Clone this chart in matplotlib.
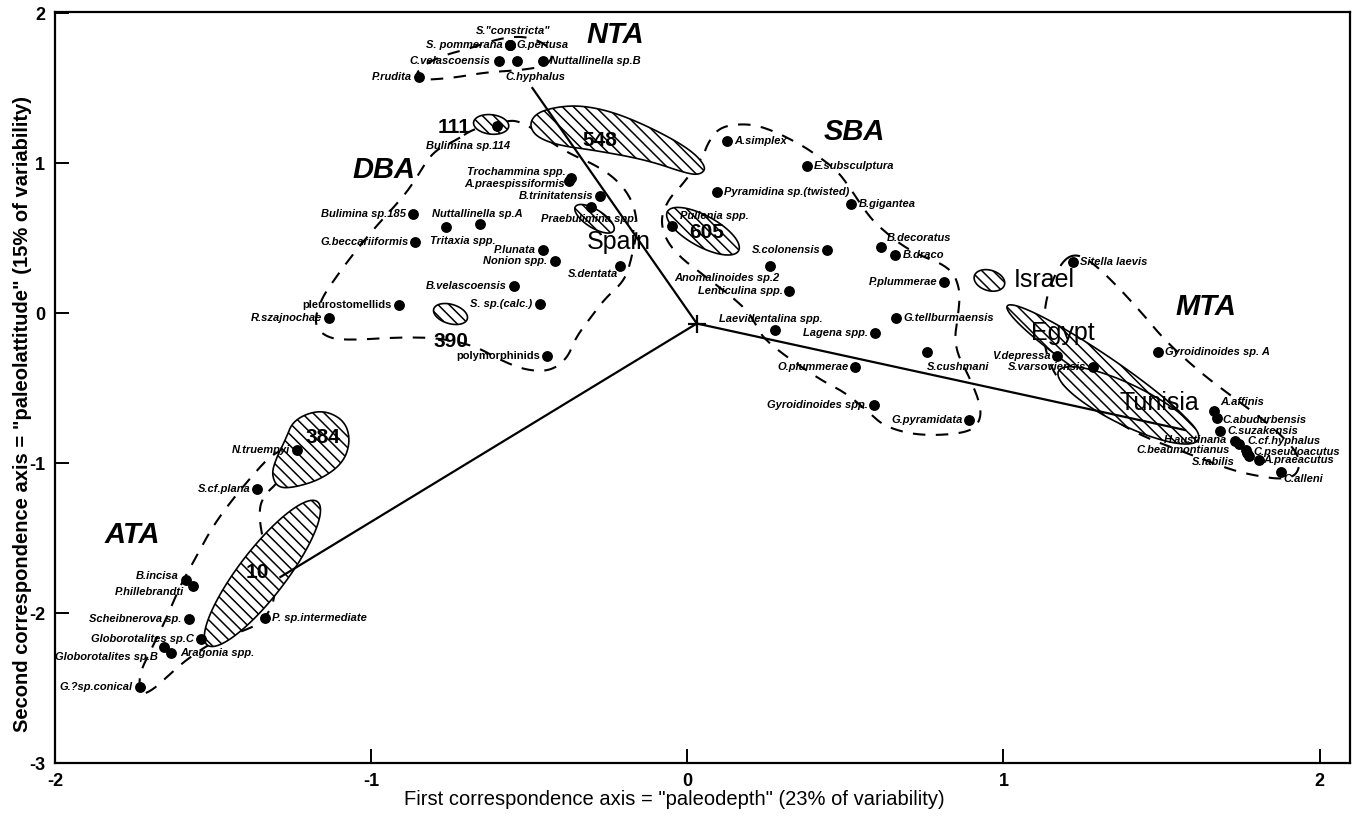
"""
Correspondence analysis of Paleocene benthic foraminifera.

species scores on first two axes, with site ellipses and assemblage outlines
"""

import matplotlib

matplotlib.use("Agg")
import matplotlib.pyplot as plt
import numpy as np
from matplotlib.patches import Polygon

plt.rcParams["font.family"] = ["Liberation Sans", "DejaVu Sans"]
plt.rcParams["hatch.linewidth"] = 1.1
plt.rcParams["axes.unicode_minus"] = False

# species scores: name, first axis, second axis
species = [
    'S."constricta"', "S. pommerana", "G.pertusa", "C.velascoensis", "C.hyphalus",
    "Nuttallinella sp.B", "P.rudita", "Bulimina sp.114", "Trochammina spp.",
    "A.praespissiformis", "B.trinitatensis", "Praebulimina spp.", "Bulimina sp.185",
    "Nuttallinella sp.A", "Tritaxia spp.", "G.beccariiformis", "P.lunata",
    "Nonion spp.", "S.dentata", "B.velascoensis", "S. sp.(calc.)", "pleurostomellids",
    "R.szajnochae", "polymorphinids", "A.simplex", "E.subsculptura",
    "Pyramidina sp.(twisted)", "B.gigantea", "Pullenia spp.", "S.colonensis",
    "B.decoratus", "B.draco", "Anomalinoides sp.2", "Lenticulina spp.", "P.plummerae",
    "G.tellburmaensis", "Laevidentalina spp.", "Lagena spp.", "S.cushmani",
    "O.plummerae", "Gyroidinoides spp.", "G.pyramidata", "Sitella laevis",
    "V.depressa", "S.varsoviensis", "Gyroidinoides sp. A", "A.affinis",
    "C.abudurbensis", "C.suzakensis", "H.austinana", "C.cf.hyphalus",
    "C.beaumontianus", "C.pseudoacutus", "S.fabilis", "A.praeacutus", "C.alleni",
    "N.truempyi", "S.cf.plana", "B.incisa", "P.hillebrandti", "Scheibnerova sp.",
    "P. sp.intermediate", "Globorotalites sp.C", "Globorotalites sp.B",
    "Aragonia spp.", "G.?sp.conical",
]
axis1 = [
    -0.562, -0.562, -0.562, -0.597, -0.538,
    -0.458, -0.850, -0.601, -0.367,
    -0.373, -0.275, -0.306, -0.869,
    -0.657, -0.762, -0.860, -0.458,
    -0.420, -0.214, -0.549, -0.467, -0.913,
    -1.134, -0.443, 0.126, 0.379,
    0.095, 0.519, -0.050, 0.443,
    0.613, 0.658, 0.263, 0.323, 0.813,
    0.661, 0.276, 0.595, 0.759,
    0.531, 0.592, 0.892, 1.221,
    1.170, 1.284, 1.490, 1.667,
    1.676, 1.685, 1.733, 1.746,
    1.767, 1.777, 1.770, 1.809, 1.878,
    -1.233, -1.360, -1.587, -1.565, -1.577,
    -1.337, -1.539, -1.656,
    -1.634, -1.732,
]
axis2 = [
    1.786, 1.786, 1.786, 1.679, 1.679,
    1.679, 1.572, 1.244, 0.900,
    0.880, 0.783, 0.709, 0.662,
    0.595, 0.575, 0.475, 0.421,
    0.348, 0.314, 0.181, 0.060, 0.054,
    -0.033, -0.288, 1.150, 0.977,
    0.810, 0.729, 0.582, 0.421,
    0.441, 0.388, 0.315, 0.147, 0.207,
    -0.033, -0.114, -0.134, -0.261,
    -0.361, -0.615, -0.716, 0.341,
    -0.288, -0.361, -0.261, -0.655,
    -0.702, -0.789, -0.856, -0.876,
    -0.916, -0.950, -0.930, -0.977, -1.057,
    -0.916, -1.171, -1.779, -1.819, -2.040,
    -2.033, -2.174, -2.227,
    -2.268, -2.495,
]

# assemblage outlines (dashed)
nta_x = [-0.860, -0.749, -0.638, -0.528, -0.449, -0.423, -0.446, -0.512, -0.591, -0.686, -0.781, -0.850]
nta_y = [1.552, 1.565, 1.605, 1.619, 1.646, 1.712, 1.793, 1.846, 1.833, 1.766, 1.712, 1.632]

dba_x = [-0.727, -0.680, -0.591, -0.522, -0.402, -0.259, -0.180, -0.155, -0.174, -0.196,
         -0.259, -0.307, -0.354, -0.379, -0.433, -0.512, -0.591, -0.670, -0.781, -0.907,
         -1.065, -1.138, -1.182, -1.160, -1.113, -1.059, -0.986, -0.901, -0.860, -0.806]
dba_y = [1.157, 1.224, 1.278, 1.284, 1.090, 0.957, 0.789, 0.589, 0.388, 0.221,
         0.100, -0.033, -0.167, -0.301, -0.388, -0.381, -0.314, -0.221, -0.167, -0.161,
         -0.181, -0.167, -0.080, 0.087, 0.234, 0.388, 0.575, 0.769, 0.889, 1.077]

sba_x = [0.047, 0.067, 0.105, 0.190, 0.263, 0.358, 0.411, 0.474, 0.516, 0.557, 0.601,
         0.705, 0.832, 0.863, 0.858, 0.842, 0.895, 0.927, 0.927, 0.889, 0.737, 0.626,
         0.573, 0.500, 0.415, 0.247, 0.215, 0.182, 0.041, -0.022, -0.069, -0.085,
         -0.059, -0.022]
sba_y = [1.030, 1.144, 1.244, 1.264, 1.224, 1.124, 1.050, 0.950, 0.830, 0.696, 0.582,
         0.408, 0.308, 0.160, 0.007, -0.220, -0.440, -0.610, -0.720, -0.800, -0.820, -0.760,
         -0.660, -0.530, -0.440, -0.190, -0.070, 0.040, 0.270, 0.370, 0.490, 0.630,
         0.760, 0.840]

mta_x = [1.186, 1.227, 1.274, 1.338, 1.433, 1.512, 1.622, 1.701, 1.843, 1.938, 1.932,
         1.881, 1.796, 1.717, 1.591, 1.464, 1.369, 1.259, 1.180, 1.132, 1.126, 1.142]
mta_y = [0.348, 0.395, 0.348, 0.227, 0.013, -0.187, -0.395, -0.522, -0.743, -0.943, -1.077,
         -1.110, -1.084, -1.044, -0.943, -0.843, -0.743, -0.575, -0.475, -0.274, -0.040, 0.160]

ata_x = [-1.729, -1.692, -1.650, -1.587, -1.492, -1.397, -1.344, -1.302, -1.312, -1.344,
         -1.356, -1.337, -1.292, -1.255, -1.281, -1.324, -1.381, -1.439, -1.502, -1.555,
         -1.603, -1.650, -1.697, -1.735]
ata_y = [-2.548, -2.514, -2.434, -2.314, -2.181, -2.114, -2.060, -1.913, -1.712, -1.512,
         -1.311, -1.211, -1.124, -0.977, -0.910, -0.963, -1.097, -1.244, -1.425, -1.632,
         -1.813, -2.047, -2.247, -2.414]

# hatched site areas drawn as free outlines
site548_x = [-0.500, -0.480, -0.420, -0.338, -0.233, -0.107, 0.010, 0.060, 0.044, 0.004,
             -0.127, -0.296, -0.401, -0.475]
site548_y = [1.251, 1.330, 1.372, 1.385, 1.340, 1.228, 1.090, 0.975, 0.925, 0.926,
             1.020, 1.086, 1.115, 1.170]
site384_x = [-1.245, -1.160, -1.087, -1.065, -1.087, -1.160, -1.245, -1.296, -1.315, -1.302, -1.271]
site384_y = [-0.709, -0.642, -0.709, -0.843, -0.997, -1.110, -1.164, -1.164, -1.077, -0.977, -0.843]

# hatched site ellipses: ends of long axis and width/length ratio
ellipse_names = ["111", "390", "Spain", "605", "Israel", "Egypt", "Tunisia", "10"]
ellipse_end1 = [(-0.676, 1.271), (-0.802, 0.027), (-0.354, 0.709), (-0.063, 0.676),
                (0.908, 0.248), (1.012, 0.047), (1.174, -0.388), (-1.518, -2.214)]
ellipse_end2 = [(-0.565, 1.244), (-0.696, -0.040), (-0.233, 0.548), (0.162, 0.415),
                (1.003, 0.187), (1.600, -0.789), (1.616, -0.843), (-1.170, -1.258)]
ellipse_ratio = [0.55, 0.55, 0.4, 0.38, 0.65, 0.13, 0.26, 0.26]

# vectors from the origin
origin = (0.03, -0.07)
vector_ends = [(-0.49, 1.50), (-1.287, -1.76), (1.574, -0.78)]

# label texts
group_names = ["NTA", "DBA", "SBA", "MTA", "ATA"]
group_x = [-0.228, -0.958, 0.528, 1.641, -1.755]
group_y = [1.853, 0.953, 1.207, 0.040, -1.480]

site_names = ["111", "548", "605", "Spain", "390", "384", "10", "Israel", "Egypt", "Tunisia"]
site_x = [-0.686, -0.278, 0.060, -0.218, -0.749, -1.151, -1.360, 1.031, 1.189, 1.492]
site_y = [1.240, 1.153, 0.540, 0.473, -0.193, -0.833, -1.727, 0.220, -0.133, -0.600]

# ---- label placement (pixel offsets) ----
L = (-7, 0, "right")
R = (7, 0, "left")
label_offsets = [
    (3, 14, "center"), L, R, (-8, 0, "right"), (-12, -16, "left"),
    R, L, (-29, -20, "center"), (-6, 6, "right"),
    (-5, -3, "right"), L, (-2, -12, "center"), L,
    (-2, 10, "center"), (-16, -14, "left"), L, L,
    L, (-2, -8, "right"), L, L, L,
    L, L, R, R,
    R, R, (8, 10, "left"), L,
    (6, 9, "left"), R, (-44, -12, "center"), L, L,
    R, (-4, 11, "center"), L, (0, -15, "left"),
    L, L, L, R,
    L, L, R, (6, 9, "left"),
    (5, -2, "left"), (7, 0, "left"), (-8, 1, "right"), (8, 3, "left"),
    (-16, 0, "right"), (4, 4, "left"), (-12, -9, "right"), (4, 0, "left"), (2, -7, "left"),
    L, L, (-7, 4, "right"), (-8, -6, "right"), L,
    R, L, (-6, -10, "right"),
    (10, 0, "left"), L,
]
upright = {"pleurostomellids", "polymorphinids"}


def chaikin(xs, ys, n=3):
    """Smooth a closed outline by corner cutting."""
    p = np.column_stack([xs, ys]).astype(float)
    for _ in range(n):
        nxt = np.roll(p, -1, axis=0)
        q = np.empty((2 * len(p), 2))
        q[0::2] = 0.75 * p + 0.25 * nxt
        q[1::2] = 0.25 * p + 0.75 * nxt
        p = q
    return np.vstack([p, p[:1]])


def ellipse_outline(ax, end1, end2, ratio, n=120):
    """Ellipse between two tips, built in display space."""
    a = ax.transData.transform([end1, end2])
    c = a.mean(axis=0)
    d = a[1] - a[0]
    length = np.hypot(*d)
    u = d / length
    v = np.array([-u[1], u[0]])
    t = np.linspace(0, 2 * np.pi, n)
    pts = c + np.outer(length / 2 * np.cos(t), u) + np.outer(ratio * length / 2 * np.sin(t), v)
    return ax.transData.inverted().transform(pts)


fig = plt.figure(figsize=(13.52, 8.27), dpi=100)
ax = fig.add_axes([55 / 1352, 64 / 827, 1295 / 1352, 751 / 827])
ax.set_xlim(-2.0, 2.096)
ax.set_ylim(-3.0, 2.007)

dash = (0, (6, 5))
for xs, ys in [(nta_x, nta_y), (dba_x, dba_y), (sba_x, sba_y), (mta_x, mta_y), (ata_x, ata_y)]:
    s = chaikin(xs, ys)
    ax.plot(s[:, 0], s[:, 1], color="black", lw=1.5, ls=dash, zorder=1)

hatch_kw = dict(facecolor="white", edgecolor="black", lw=1.2, hatch="\\\\\\", zorder=3)
for xs, ys in [(site548_x, site548_y), (site384_x, site384_y)]:
    s = chaikin(xs, ys)
    ax.add_patch(Polygon(s, closed=True, **hatch_kw))
for e1, e2, r in zip(ellipse_end1, ellipse_end2, ellipse_ratio):
    ax.add_patch(Polygon(ellipse_outline(ax, e1, e2, r), closed=True, **hatch_kw))

for ex, ey in vector_ends:
    ax.plot([origin[0], ex], [origin[1], ey], color="black", lw=1.6, zorder=4)
ax.plot(*origin, marker="+", ms=13, mew=1.6, color="black", zorder=4)

ax.plot(axis1, axis2, "o", color="black", ms=6.8, zorder=5)

for name, x, y, (dx, dy, ha) in zip(species, axis1, axis2, label_offsets):
    ax.annotate(
        name, (x, y), xytext=(dx, dy), textcoords="offset pixels",
        ha=ha, va="center", fontsize=8, fontweight="bold",
        style="normal" if name in upright else "italic", zorder=6,
    )

for name, x, y in zip(group_names, group_x, group_y):
    ax.text(x, y, name, fontsize=21, fontweight="bold", style="italic",
            ha="center", va="center", zorder=6)
for name, x, y in zip(site_names, site_x, site_y):
    numeric = name[0].isdigit()
    ax.text(x, y, name, fontsize=15 if numeric else 18,
            fontweight="bold" if numeric else "normal",
            ha="right" if name == "111" else ("left" if name == "Israel" else "center"),
            va="center", zorder=6)

ax.set_xticks([-2, -1, 0, 1, 2])
ax.set_yticks([-3, -2, -1, 0, 1, 2])
ax.tick_params(direction="in", length=10, width=1.4, labelsize=13, pad=7,
               top=False, right=False)
for lab in ax.get_xticklabels() + ax.get_yticklabels():
    lab.set_fontweight("bold")
for sp in ax.spines.values():
    sp.set_linewidth(1.6)

fig.text(0.4985, 0.033, 'First correspondence axis = "paleodepth" (23% of variability)',
         ha="center", va="center", fontsize=14.5)
fig.text(0.0163, 0.5, 'Second correspondence axis = "paleolattitude" (15% of variability)',
         ha="center", va="center", rotation=90, fontsize=14.5, fontweight="bold")

fig.savefig("out.png", dpi=100)
plt.close()
